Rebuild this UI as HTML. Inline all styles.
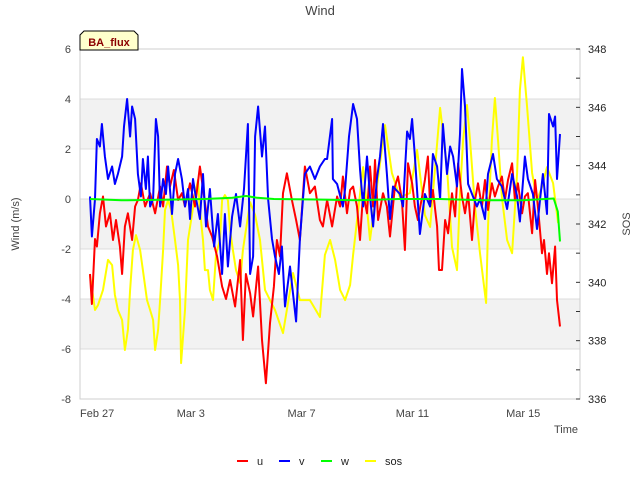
<!DOCTYPE html>
<html><head><meta charset="utf-8"><style>
body{margin:0;background:#fff;}
svg{display:block;font-family:"Liberation Sans","DejaVu Sans",sans-serif;}
</style></head><body>
<svg id="chart" width="640" height="480" viewBox="0 0 640 480">
<g id="bands"></g>
<g id="grid"></g>
<g id="series"></g>
<g id="axes"></g>
<text x="320" y="15" text-anchor="middle" font-size="13" fill="#444">Wind</text>
<text transform="translate(19,224) rotate(-90)" text-anchor="middle" font-size="11" fill="#444">Wind (m/s)</text>
<text transform="translate(630,224) rotate(-90)" text-anchor="middle" font-size="11" fill="#444">SOS</text>
<text x="578" y="433" text-anchor="end" font-size="11" fill="#444">Time</text>
<g>
<polygon points="80,50 80,35 84,31 134,31 138,35 138,50" fill="#ffffcc" stroke="#000" stroke-width="1"/>
<text x="109" y="46" text-anchor="middle" font-size="11" font-weight="bold" fill="#8b0000">BA_flux</text>
</g>
<g id="legend"></g>
</svg>
<script>
const xTickLabels=["Feb 27","Mar 3","Mar 7","Mar 11","Mar 15"];
const xTickDays=[0,4,8,12,16];
const yTicks=[-8,-6,-4,-2,0,2,4,6];
const y2Ticks=[336,338,340,342,344,346,348];
const uT=[.36,.43,.54,.61,.72,.83,.94,1.08,1.19,1.3,1.44,1.52,1.62,1.73,1.88,1.99,2.09,2.2,2.35,2.53,2.71,2.89,3.0,3.14,3.25,3.39,3.54,3.68,3.79,3.97,4.15,4.33,4.48,4.62,4.77,4.95,5.13,5.27,5.42,5.6,5.78,5.88,5.99,6.14,6.25,6.43,6.57,6.71,6.86,7.0,7.11,7.22,7.33,7.47,7.65,7.8,7.94,8.12,8.3,8.48,8.66,8.77,8.92,9.1,9.28,9.39,9.49,9.64,9.75,9.86,10.0,10.11,10.22,10.36,10.47,10.58,10.65,10.76,10.94,11.08,11.19,11.37,11.48,11.62,11.73,11.84,11.99,12.09,12.2,12.35,12.45,12.56,12.64,12.74,12.89,12.96,13.07,13.18,13.29,13.43,13.54,13.65,13.79,13.9,14.01,14.15,14.26,14.37,14.51,14.62,14.73,14.87,14.98,15.09,15.23,15.34,15.45,15.6,15.7,15.81,15.96,16.06,16.17,16.32,16.43,16.53,16.68,16.75,16.86,16.93,17.04,17.15,17.22,17.33];
const uV=[-3.0,-4.2,-1.6,-1.9,-0.57,0.1,-1.1,-0.57,-1.64,-0.84,-1.9,-3.0,-1.1,-0.57,-1.64,-0.3,-0.04,0.63,-0.3,0.23,-0.57,0.5,-0.3,1.3,0.5,1.16,-0.04,0.23,-0.3,0.63,-0.3,1.3,0.1,-1.1,-1.5,-2.3,-3.5,-4.0,-3.24,-4.3,-2.44,-5.64,-3.0,-3.77,-4.7,-2.7,-5.64,-7.37,-4.97,-3.5,-1.64,-2.3,0.23,1.03,-0.04,-0.84,-1.64,1.3,0.23,0.5,-0.84,-1.1,-0.04,-1.1,0.1,-0.3,0.9,-0.57,0.36,0.5,-0.3,-1.64,0.23,-0.57,1.3,-0.3,1.56,-0.84,0.23,-0.3,-1.5,0.5,0.9,-0.04,-2.04,1.43,0.63,-0.3,-0.84,0.1,0.76,1.7,-0.3,0.36,-1.1,-2.84,-2.84,-0.84,-1.37,0.23,-0.7,1.43,0.1,-0.57,0.23,-1.64,-0.04,0.63,-0.3,0.76,-0.44,0.63,0.1,0.5,0.9,-0.04,0.76,1.43,-0.04,0.63,-0.57,0.1,0.23,-1.37,0.76,-0.3,-2.17,-1.64,-3.0,-2.17,-3.37,-1.9,-4.04,-5.1];
const vT=[.36,.43,.54,.61,.72,.79,.9,1.01,1.16,1.26,1.37,1.52,1.59,1.7,1.81,1.88,1.99,2.09,2.2,2.27,2.38,2.45,2.53,2.64,2.74,2.82,2.89,3.0,3.1,3.18,3.32,3.43,3.54,3.68,3.79,3.9,3.97,4.08,4.19,4.33,4.44,4.55,4.69,4.84,4.98,5.13,5.23,5.34,5.49,5.63,5.78,5.92,6.06,6.14,6.25,6.32,6.43,6.57,6.68,6.79,6.93,7.04,7.18,7.29,7.4,7.58,7.8,7.94,8.12,8.3,8.48,8.66,8.84,8.92,9.1,9.13,9.28,9.49,9.57,9.71,9.86,10.0,10.11,10.22,10.36,10.47,10.58,10.72,10.83,10.94,11.08,11.19,11.3,11.55,11.66,11.81,11.91,11.99,12.09,12.27,12.45,12.64,12.74,12.89,13.0,13.1,13.25,13.36,13.47,13.61,13.72,13.79,13.9,14.01,14.15,14.33,14.44,14.62,14.73,14.91,15.05,15.23,15.42,15.6,15.78,15.88,16.06,16.17,16.35,16.5,16.61,16.71,16.86,16.93,17.08,17.15,17.22,17.33];
const vV=[0.1,-1.5,0,2.4,2.1,3.0,1.7,0.8,1.3,0.6,1.0,1.7,2.9,4.0,2.5,3.7,3.2,1.0,0.1,1.6,0.4,1.7,-0.3,0,3.2,2.5,-0.3,0.8,0.2,1.3,-0.6,1.0,1.6,0.8,-0.3,0.4,-0.8,0.8,0,-0.8,1.0,-1.1,0.4,-1.9,-0.6,-3.0,-0.6,-2.7,-0.7,0.2,-1.1,0.4,3.0,-3.0,-2.3,2.5,3.7,1.7,2.9,0,-1.6,-2.3,-3.0,-1.9,-4.3,-2.7,-4.9,-1.6,1.0,1.3,0.8,1.3,1.6,1.6,3.2,0.8,0.6,-0.3,0.4,2.5,3.8,3.2,1.2,-0.3,1.7,0.1,-1.1,0.8,1.7,3.0,1.0,-0.8,0.5,0.2,-0.3,2.7,2.4,3.2,1.7,-1.4,0.2,-0.3,1.8,1.3,0,3.0,1.0,2.1,1.7,0.5,2.6,5.2,3.7,0.6,0.2,-0.3,0,-0.8,1.0,1.8,0.8,0.5,-0.4,1.0,0.1,-0.9,1.7,0.8,0.2,-1.2,0,1.0,-0.6,3.4,2.9,3.3,0.8,2.6];
const wT=[0.36,1.5,3.0,4.5,5.5,6.0,6.4,7.0,8.5,10.0,11.5,13.0,14.5,16.0,17.1,17.25,17.33];
const wV=[0.0,-0.05,-0.03,0.0,0.05,0.12,0.05,0.0,-0.02,-0.05,0.0,0.0,-0.05,-0.05,0.02,-0.5,-1.7];
const sT=[.36,.54,.65,.83,1.01,1.16,1.26,1.37,1.52,1.62,1.73,1.81,1.91,2.02,2.17,2.27,2.42,2.53,2.64,2.71,2.82,2.89,3.0,3.07,3.18,3.29,3.43,3.54,3.61,3.65,3.79,3.9,4.04,4.15,4.26,4.33,4.44,4.51,4.62,4.69,4.8,4.91,5.05,5.13,5.23,5.34,5.42,5.52,5.63,5.78,5.88,5.99,6.14,6.32,6.5,6.68,6.86,7.04,7.33,7.69,7.94,8.3,8.66,8.84,9.03,9.21,9.39,9.57,9.75,9.86,10.22,10.47,11.01,11.26,11.55,11.91,12.17,12.45,12.64,13.0,13.25,13.43,13.61,13.72,13.83,13.97,14.08,14.26,14.44,14.66,14.73,14.87,14.98,15.09,15.23,15.42,15.6,15.78,15.88,15.99,16.14,16.32,16.5,16.68,16.86,17.08,17.26];
const sV=[340.25,339.05,339.22,339.74,340.77,340.59,339.57,339.05,338.71,337.68,338.37,339.74,341.11,341.62,341.11,340.42,339.39,339.05,338.71,337.68,338.37,339.39,341.11,342.48,342.82,342.48,341.45,340.59,339.39,337.23,339.05,341.45,342.31,342.99,343.51,342.48,341.45,340.42,340.42,339.74,339.39,340.94,341.45,342.82,342.99,342.82,341.79,341.11,340.42,339.98,341.11,341.79,342.75,342.31,341.45,339.74,339.39,339.05,338.26,340.32,339.39,339.39,338.81,340.94,341.45,340.77,339.74,339.39,339.91,340.94,343.95,341.45,345.39,343.75,342.92,343.06,344.54,342.31,341.9,345.98,343.95,341.21,340.42,343.06,344.88,346.08,344.88,342.58,341.0,339.29,341.9,344.88,346.32,344.88,342.92,341.45,341.0,343.75,346.59,347.72,346.01,343.75,342.82,343.27,343.95,343.4,342.03];

const NS='http://www.w3.org/2000/svg';
const L=80,R=580,T=49,B=399;
const xs=d=>L+d*27.7;
const ys=v=>T+(6-v)*(B-T)/14;
const ys2=v=>T+(348-v)*(B-T)/12;
function mk(tag,attrs,parent){const e=document.createElementNS(NS,tag);for(const k in attrs)e.setAttribute(k,attrs[k]);parent.appendChild(e);return e;}
const bands=document.getElementById('bands'),grid=document.getElementById('grid'),axes=document.getElementById('axes'),series=document.getElementById('series'),legend=document.getElementById('legend');
[[4,2],[0,-2],[-4,-6]].forEach(b=>{const r=mk('rect',{x:L,y:ys(b[0]),width:R-L,height:ys(b[1])-ys(b[0]),fill:'#f2f2f2'},bands);

});
yTicks.forEach(v=>{const l=mk('line',{x1:L,x2:R,y1:ys(v),y2:ys(v),stroke:'#dcdcdc','stroke-width':1},grid);


const t=mk('text',{x:L-9,y:ys(v)+4,'text-anchor':'end','font-size':11,fill:'#444'},axes);t.textContent=v;

});
const fr=mk('rect',{x:L,y:T,width:R-L,height:B-T,fill:'none',stroke:'#cfcfcf','stroke-width':1},axes);


for(let v=336;v<=348;v++){const tk=mk('line',{x1:R-4,x2:R,y1:ys2(v),y2:ys2(v),stroke:'#333','stroke-width':1},axes);

}
y2Ticks.forEach(v=>{const t=mk('text',{x:R+8,y:ys2(v)+4,'font-size':11,fill:'#222'},axes);t.textContent=v;

});
xTickLabels.forEach((s,i)=>{const t=mk('text',{x:xs(xTickDays[i])-(i==0?0:0),y:417,'text-anchor':i==0?'start':'middle','font-size':11,fill:'#444'},axes);t.textContent=s;
if(i==0)t.setAttribute('x',L);

});
function draw(T_,V_,col,yf,name,w){const d=T_.map((t,i)=>(i?'L':'M')+xs(t).toFixed(1)+','+yf(V_[i]).toFixed(1)).join('');
const p=mk('path',{d:d,fill:'none',stroke:col,'stroke-width':w,'stroke-linejoin':'round'},series);

}
draw(sT,sV,'#ffff00',ys2,'sos-line',2);
draw(uT,uV,'#ff0000',ys,'u-line',2);
draw(vT,vV,'#0000ff',ys,'v-line',2);
draw(wT,wV,'#00ff00',ys,'w-line',2);
const legendItems=[['u','#ff0000',237],['v','#0000ff',279],['w','#00ff00',321],['sos','#ffff00',365]];
legendItems.forEach(it=>{const g=mk('g',{},legend);


mk('line',{x1:it[2],x2:it[2]+11,y1:461,y2:461,stroke:it[1],'stroke-width':2},g);
const t=mk('text',{x:it[2]+20,y:465,'font-size':11,fill:'#222'},g);t.textContent=it[0];});
</script>
</body></html>
